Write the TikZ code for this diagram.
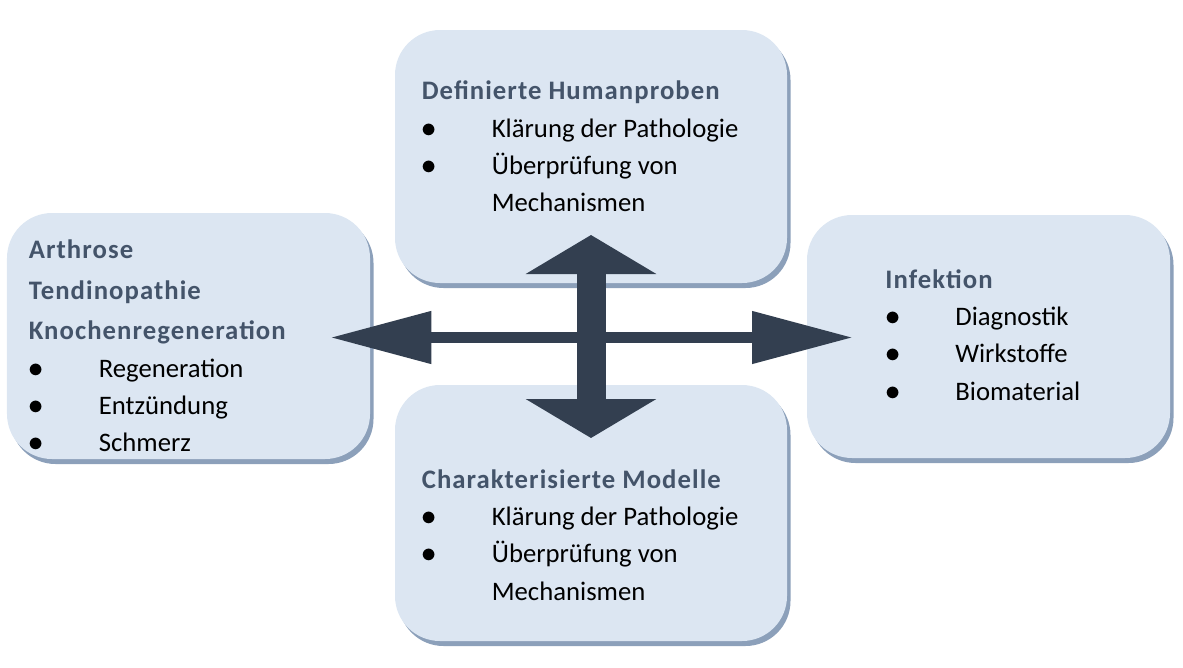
\documentclass[tikz,border=0pt]{standalone}
\usepackage{fontspec}
\setmainfont{Carlito}[BoldFeatures={LetterSpace=4}]
\usetikzlibrary{arrows.meta}
\definecolor{panelfill}{RGB}{220,230,242}
\definecolor{panelshade}{RGB}{140,160,186}
\definecolor{arrowslate}{RGB}{51,63,80}
\definecolor{headslate}{RGB}{68,84,106}
\newcommand{\listpoint}[1]{\makebox[1.4cm][l]{\fontsize{18}{18}\selectfont$\bullet$}#1}
\newcommand{\panelhead}[1]{\textcolor{headslate}{\textbf{#1}}}

\begin{document}
\begin{tikzpicture}[
        font=\fontsize{15.2}{21.2}\selectfont,
        panel/.style={fill=panelfill, rounded corners=0.9cm},
        panelshadow/.style={fill=panelshade, rounded corners=0.9cm, xshift=0.07cm, yshift=-0.1cm},
        textblock/.style={anchor=base west, align=left, inner sep=0pt},
        blockarrow/.style={arrowslate, line width=#1}
    ]
        \useasboundingbox (0,0) rectangle (23.66,-13.36);

        \fill[panelshadow] (7.9,-0.6) rectangle (15.74,-5.66);
        \fill[panel] (7.9,-0.6) rectangle (15.74,-5.66);
        \node[textblock] (humanproben) at (8.43,-4.234)
            {\panelhead{Definierte Humanproben}\\
             \listpoint{Klärung der Pathologie}\\
             \listpoint{Überprüfung von}\\
             \hspace*{1.4cm}Mechanismen};

        \fill[panelshadow] (0.14,-4.26) rectangle (7.4,-9.18);
        \fill[panel] (0.14,-4.26) rectangle (7.4,-9.18);
        \node[textblock] (arthrose) at (0.57,-9.034)
            {\panelhead{Arthrose}\\[2pt]
             \panelhead{Tendinopathie}\\[2pt]
             \panelhead{Knochenregeneration}\\
             \listpoint{Regeneration}\\
             \listpoint{Entzündung}\\
             \listpoint{Schmerz}};

        \fill[panelshadow] (16.14,-4.3) rectangle (23.4,-9.16);
        \fill[panel] (16.14,-4.3) rectangle (23.4,-9.16);
        \node[textblock] (infektion) at (17.7,-8.0)
            {\panelhead{Infektion}\\
             \listpoint{Diagnostik}\\
             \listpoint{Wirkstoffe}\\
             \listpoint{Biomaterial}};

        \fill[panelshadow] (7.9,-7.7) rectangle (15.74,-12.82);
        \fill[panel] (7.9,-7.7) rectangle (15.74,-12.82);
        \node[textblock] (modelle) at (8.43,-12.0)
            {\panelhead{Charakterisierte Modelle}\\
             \listpoint{Klärung der Pathologie}\\
             \listpoint{Überprüfung von}\\
             \hspace*{1.4cm}Mechanismen};

        \coordinate (leftTip) at (6.606,-6.75);
        \coordinate (rightTip) at (17.06,-6.75);
        \coordinate (upTip) at (11.82,-4.7);
        \coordinate (downTip) at (11.82,-8.76);

        \draw[blockarrow=0.22cm,
            {Triangle[length=2.02cm, width=1cm]}-{Triangle[length=2.02cm, width=1cm]}]
            (leftTip) -- (rightTip);
        \draw[blockarrow=0.58cm,
            {Triangle[length=0.78cm, width=2.58cm]}-{Triangle[length=0.78cm, width=2.58cm]}]
            (upTip) -- (downTip);
    \end{tikzpicture}
\end{document}
